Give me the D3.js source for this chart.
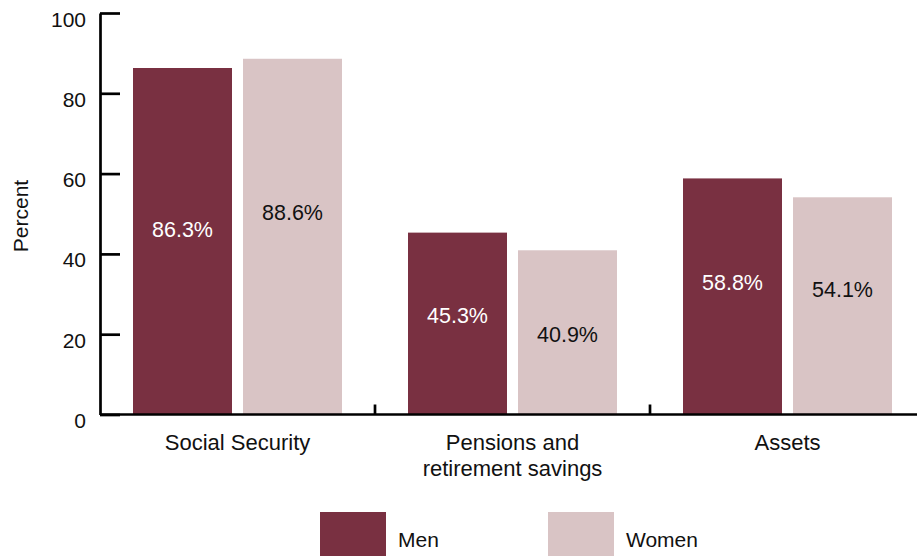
<!DOCTYPE html>
<html>
<head>
<meta charset="utf-8">
<script src="https://cdn.jsdelivr.net/npm/d3@7"></script>
<style>
  body { margin: 0; background: #fff; }
  svg { display: block; font-family: "Liberation Sans", Arial, sans-serif; }
</style>
</head>
<body>
<div id="container"></div>
<script>
/* DATA */
const categories = ["Social Security", "Pensions and\nretirement savings", "Assets"];
const seriesNames = ["Men", "Women"];
const men = [86.3, 45.3, 58.8];
const women = [88.6, 40.9, 54.1];
const yTicks = [0, 20, 40, 60, 80, 100];

/* CONSTANTS */
const width = 917,
  height = 556,
  colors = { Men: "#793041", Women: "#d9c4c5" },
  valueColors = { Men: "#ffffff", Women: "#111111" };

// small hand nudges for the value labels (px), like the original
const labelShift = [[-12, -24], [-8, 2], [-14, -17]];

const svg = d3.select("#container")
  .append("svg")
  .attr("width", width)
  .attr("height", height);

// scales
const x0 = d3.scaleBand()
  .domain(categories)
  .range([100, 925]);

const x1 = d3.scaleBand()
  .domain(seriesNames)
  .range([33, 242])
  .paddingInner(11 / 110);

const y = d3.scaleLinear()
  .domain([0, 100])
  .range([414.5, 13]);

// y axis, ticks pointing inward
const yAxis = d3.axisLeft(y)
  .tickValues(yTicks)
  .tickSizeInner(-20)
  .tickSizeOuter(0)
  .tickPadding(14);

const yAxisG = svg.append("g")
  .attr("transform", "translate(100,0)")
  .call(yAxis);

yAxisG.select(".domain").attr("stroke", "#000").attr("stroke-width", 2.7);
yAxisG.selectAll(".tick line").attr("stroke", "#000").attr("stroke-width", 2.7);
yAxisG.selectAll(".tick text")
  .attr("font-size", 21)
  .attr("font-family", "'Liberation Sans', Arial, sans-serif")
  .attr("fill", "#111")
  .attr("dy", "0.62em");

// y axis title
svg.append("text")
  .attr("transform", "translate(28,216) rotate(-90)")
  .attr("text-anchor", "middle")
  .attr("font-size", 21)
  .attr("fill", "#111")
  .text("Percent");

// bars
const rows = categories.map((c, i) => ({
  cat: c, i,
  vals: [{ key: "Men", v: men[i] }, { key: "Women", v: women[i] }]
}));

const groups = svg.selectAll("g.group")
  .data(rows)
  .join("g")
  .attr("class", "group")
  .attr("transform", d => `translate(${x0(d.cat)},0)`);

groups.selectAll("rect")
  .data(d => d.vals)
  .join("rect")
  .attr("x", d => x1(d.key))
  .attr("width", x1.bandwidth())
  .attr("y", d => y(d.v))
  .attr("height", d => y(0) - y(d.v))
  .attr("fill", d => colors[d.key]);

groups.selectAll("text.value")
  .data(d => d.vals.map((v, j) => ({ ...v, shift: labelShift[d.i][j] })))
  .join("text")
  .attr("class", "value")
  .attr("x", d => x1(d.key) + x1.bandwidth() / 2)
  .attr("y", d => y(d.v / 2) + d.shift)
  .attr("dy", "0.36em")
  .attr("text-anchor", "middle")
  .attr("font-size", 21.5)
  .attr("fill", d => valueColors[d.key])
  .text(d => d.v.toFixed(1) + "%");

// x axis line with group-boundary ticks
svg.append("line")
  .attr("x1", 100).attr("x2", 925)
  .attr("y1", y(0)).attr("y2", y(0))
  .attr("stroke", "#000").attr("stroke-width", 2.7);

svg.selectAll("line.xtick")
  .data(categories.slice(1))
  .join("line")
  .attr("class", "xtick")
  .attr("x1", d => x0(d)).attr("x2", d => x0(d))
  .attr("y1", y(0)).attr("y2", y(0) - 10)
  .attr("stroke", "#000").attr("stroke-width", 2.7);

// category labels
const catLabels = svg.selectAll("text.cat")
  .data(categories)
  .join("text")
  .attr("class", "cat")
  .attr("text-anchor", "middle")
  .attr("font-size", 22)
  .attr("fill", "#111");

catLabels.selectAll("tspan")
  .data(d => d.split("\n").map(t => ({ t, c: d })))
  .join("tspan")
  .attr("x", d => x0(d.c) + x0.bandwidth() / 2)
  .attr("y", (d, i) => 450 + i * 26)
  .text(d => d.t);

// legend
const legendX = [320, 548];
const legend = svg.selectAll("g.legend")
  .data(seriesNames)
  .join("g")
  .attr("class", "legend")
  .attr("transform", (d, i) => `translate(${legendX[i]},512)`);

legend.append("rect")
  .attr("width", 66)
  .attr("height", 50)
  .attr("fill", d => colors[d]);

legend.append("text")
  .attr("x", 78)
  .attr("y", 35)
  .attr("font-size", 21)
  .attr("fill", "#111")
  .text(d => d);
</script>
</body>
</html>
